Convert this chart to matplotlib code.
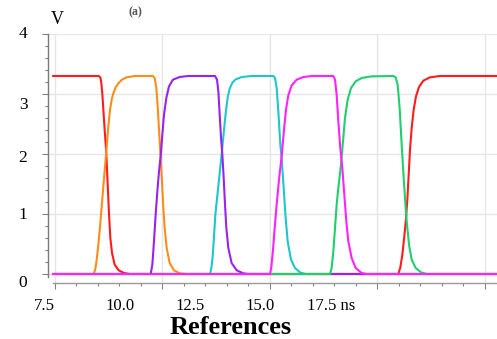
import matplotlib
matplotlib.use('Agg')
import matplotlib.pyplot as plt
from matplotlib.ticker import MultipleLocator

plt.rcParams['font.family'] = ['Liberation Serif', 'DejaVu Serif']

# ---------------- data (time in ns, voltage in V) ----------------
red_t = [7.45, 8.516, 8.554, 8.578, 8.601, 8.647, 8.694, 8.725, 8.756, 8.787, 8.826, 8.888, 8.981, 9.105, 9.236,
         15.485, 15.531, 15.578, 15.624, 15.663, 15.694, 15.725, 15.756, 15.795, 15.841, 15.895, 15.965,
         16.066, 16.221, 16.453, 17.78]
red_v = [3.30, 3.30, 3.278, 3.183, 3.0, 2.489, 2.0, 1.489, 1.0, 0.60, 0.35, 0.156, 0.061, 0.017, 0.0,
         0.0, 0.111, 0.322, 0.628, 0.933, 1.239, 1.656, 2.072, 2.433, 2.739, 2.961, 3.117,
         3.222, 3.278, 3.30, 3.30]

orange_t = [7.45, 8.399, 8.438, 8.469, 8.508, 8.547, 8.624, 8.702, 8.740, 8.779, 8.818, 8.857, 8.911,
            8.973, 9.058, 9.167, 9.353, 9.779,
            9.818, 9.857, 9.895, 9.926, 9.957, 9.988, 10.019, 10.050, 10.097, 10.167, 10.267, 10.399,
            10.554, 17.78]
orange_v = [0.0, 0.0, 0.083, 0.233, 0.489, 0.789, 1.456, 2.122, 2.456, 2.733, 2.906, 3.011, 3.111,
            3.178, 3.239, 3.278, 3.30, 3.30,
            3.267, 3.10, 2.711, 2.322, 1.933, 1.544, 1.10, 0.767, 0.433, 0.183, 0.061, 0.011,
            0.0, 0.0]

purple_t = [7.45, 9.725, 9.764, 9.802, 9.841, 9.880, 9.919, 9.957, 9.996, 10.035, 10.089, 10.151,
            10.244, 10.399, 10.593, 11.221,
            11.268, 11.299, 11.330, 11.361, 11.392, 11.423, 11.454, 11.485, 11.531, 11.608, 11.725,
            11.880, 11.996, 17.78]
purple_v = [0.0, 0.0, 0.156, 0.544, 0.989, 1.378, 1.711, 1.961, 2.322, 2.656, 2.933, 3.128,
            3.239, 3.283, 3.30, 3.30,
            3.239, 3.044, 2.656, 2.267, 1.989, 1.60, 1.156, 0.767, 0.433, 0.183, 0.061,
            0.011, 0.0, 0.0]

cyan_t = [7.45, 11.105, 11.136, 11.167, 11.198, 11.229, 11.298, 11.376, 11.446, 11.485, 11.516,
          11.562, 11.624, 11.702, 11.841, 12.074, 12.578,
          12.617, 12.655, 12.694, 12.740, 12.771, 12.818, 12.864, 12.911, 12.988, 13.081, 13.198,
          13.314, 17.78]
cyan_v = [0.0, 0.0, 0.10, 0.294, 0.628, 0.989, 1.461, 2.0, 2.517, 2.778, 2.944,
          3.089, 3.189, 3.244, 3.283, 3.30, 3.30,
          3.267, 3.10, 2.711, 2.156, 1.933, 1.433, 0.933, 0.544, 0.239, 0.10, 0.028,
          0.0, 0.0]

magenta_t = [7.45, 12.500, 12.531, 12.570, 12.609, 12.655, 12.709, 12.771, 12.826, 12.872, 12.926,
             13.004, 13.120, 13.275, 13.469, 13.973,
             14.012, 14.050, 14.089, 14.135, 14.182, 14.228, 14.275, 14.322, 14.399, 14.492,
             14.632, 14.748, 17.78]
magenta_v = [0.0, 0.0, 0.111, 0.406, 0.767, 1.156, 1.572, 1.961, 2.406, 2.739, 2.978,
             3.144, 3.239, 3.283, 3.30, 3.30,
             3.239, 2.989, 2.544, 2.10, 1.767, 1.322, 0.878, 0.544, 0.267, 0.10,
             0.017, 0.0, 0.0]

green_t = [7.45, 13.895, 13.934, 13.973, 14.012, 14.050, 14.089, 14.151, 14.198, 14.244, 14.306,
           14.384, 14.492, 14.632, 14.864, 15.368,
           15.422, 15.469, 15.515, 15.562, 15.609, 15.655, 15.686, 15.733, 15.795, 15.888,
           16.012, 16.143, 17.78]
green_v = [0.0, 0.0, 0.10, 0.378, 0.767, 1.156, 1.433, 1.822, 2.211, 2.60, 2.906,
           3.10, 3.211, 3.267, 3.294, 3.30,
           3.278, 3.156, 2.767, 2.156, 1.60, 1.10, 0.822, 0.489, 0.239, 0.10,
           0.028, 0.0, 0.0]

x_tick_labels = ['7.5', '10.0', '12.5', '15.0', '17.5 ns']
y_tick_labels = ['0', '1', '2', '3', '4']
x_label = 'References'
y_unit = 'V'
panel_tag = '(a)'

# ---------------- layout ----------------
W, H = 497, 339
fig = plt.figure(figsize=(W / 100, H / 100), dpi=100)
ax = fig.add_axes([48 / W, 1 - 283 / H, (W - 48) / W, (283 - 34) / H])

series = [
    (red_t, red_v, '#ff1c1c'),
    (orange_t, orange_v, '#ff8c1a'),
    (cyan_t, cyan_v, '#1fc6cc'),
    (purple_t, purple_v, '#9a22f0'),
    (green_t, green_v, '#1fcf6c'),
    (magenta_t, magenta_v, '#ff22ff'),
]
for t, v, c in series:
    ax.plot(t, v, color=c, lw=1.5, solid_capstyle='round', solid_joinstyle='round', zorder=3)

ax.set_xlim(7.5 - 7 / 43, 7.5 + (W - 55) / 43)
ax.set_ylim(-0.15, 4.0)

ax.set_xticks([7.5, 10, 12.5, 15, 17.5])
ax.xaxis.set_minor_locator(MultipleLocator(0.5))
ax.yaxis.set_major_locator(MultipleLocator(1))
ax.yaxis.set_minor_locator(MultipleLocator(0.2))
ax.tick_params(labelbottom=False, labelleft=False)
ax.tick_params(axis='both', which='major', direction='out', length=4, width=0.8, color='#808080')
ax.tick_params(axis='both', which='minor', direction='out', length=2.5, width=0.8, color='#808080')

ax.grid(True, which='major', color='#e6e6e6', lw=1.0, zorder=0)
ax.set_axisbelow(True)

for s in ['top', 'right']:
    ax.spines[s].set_visible(False)
ax.spines['left'].set_color('#7a7a7a')
ax.spines['left'].set_linewidth(1.0)
ax.spines['left'].set_bounds(-0.05, 4.0)
ax.spines['bottom'].set_color('#9a9a9a')
ax.spines['bottom'].set_linewidth(1.0)
ax.spines['bottom'].set_bounds(7.46, 7.5 + (W - 55) / 43)


def fx(px):
    return px / W


def fy(py):
    return 1 - py / H


# tick labels placed as in the reference (they sit offset from the ticks there)
xlab_px = [44, 120, 190, 260, 331]
for lab, px in zip(x_tick_labels, xlab_px):
    fig.text(fx(px), fy(306), lab, ha='center', va='center', fontsize=12, color='black')

ylab_py = [283, 215, 158, 105, 34]
for lab, py in zip(y_tick_labels, ylab_py):
    fig.text(fx(23), fy(py), lab, ha='center', va='center', fontsize=12.5, color='black')

fig.text(fx(57), fy(20), y_unit, ha='center', va='center', fontsize=13, color='black')
fig.text(fx(135.5), fy(12), panel_tag, ha='center', va='center', fontsize=8.5,
         fontweight='bold', color='#555555')
fig.text(fx(231), fy(327), x_label, ha='center', va='center', fontsize=19,
         fontweight='bold', color='black')

fig.savefig('out.png', dpi=100)
